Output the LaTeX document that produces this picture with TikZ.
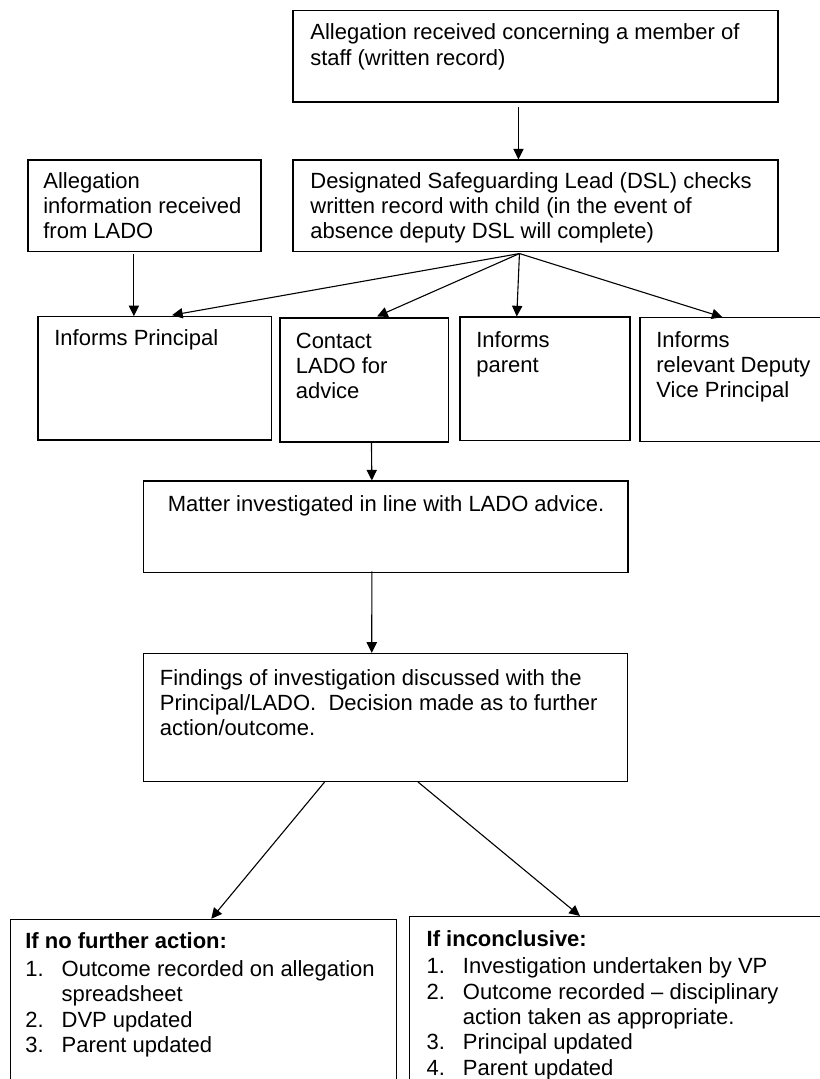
\documentclass[tikz,border=0pt]{standalone}
\usepackage{fontspec}
\setmainfont{Liberation Sans}
\usetikzlibrary{arrows.meta,calc,fit}
\newcommand{\mkbox}[5]{%
  \path (#2,#3) coordinate (#1-a) (#4,#5) coordinate (#1-b);
  \node[boxstyle, fit=(#1-a)(#1-b)] (#1) {};}
\newcommand{\numit}[1]{\makebox[19.8pt][l]{#1}}
\begin{document}
\begin{tikzpicture}[x=0.5455pt,y=-0.5455pt,
  boxstyle/.style={draw=black, line width=0.6pt, inner sep=0pt, rectangle},
  txt/.style={anchor=north west, inner sep=0pt, align=left, font=\fontsize{12}{13.8}\selectfont},
  arr/.style={draw=black, line width=0.6pt, -{Triangle[length=5.8pt,width=5.6pt]}}]
\path[use as bounding box] (0,0) rectangle (820,1079);
\clip (0,0) rectangle (820,1079);
\fill[white] (0,0) rectangle (820,1079);

% boxes
\mkbox{top}{293}{10.7}{778}{102}
\mkbox{lado}{28}{160}{261}{251.7}
\mkbox{dsl}{293}{160}{778}{251.7}
\mkbox{principal}{38}{316.7}{271.4}{440}
\mkbox{contact}{280}{318}{448.7}{442}
\mkbox{parent}{460}{317}{630}{440.7}
\mkbox{deputy}{640}{317.7}{840}{441.7}
\mkbox{matter}{143.8}{481}{628}{572.7}
\mkbox{findings}{143.3}{653.4}{627.6}{781.3}
\mkbox{bl}{10.5}{919.3}{396.4}{1095}
\mkbox{br}{409.5}{916.5}{840}{1095}

% texts
\node[txt] (top-t) at (310,21.8) {\strut Allegation received concerning a member of\\staff (written record)};
\node[txt] (lado-t) at (43,170.3) {\strut Allegation\\information received\\from LADO};
\node[txt] (dsl-t) at (310,170.3) {\strut Designated Safeguarding Lead (DSL) checks\\written record with child (in the event of\\absence deputy DSL will complete)};
\node[txt] (principal-t) at (54,327.3) {\strut Informs Principal};
\node[txt] (contact-t) at (295.5,330.3) {\strut Contact\\LADO for\\advice};
\node[txt] (parent-t) at (476,329.3) {\strut Informs\\parent};
\node[txt] (deputy-t) at (656,329.3) {\strut Informs\\relevant Deputy\\Vice Principal};
\node[txt] (matter-t) at (167.4,493.3) {\strut Matter investigated in line with LADO advice.};
\node[txt] (findings-t) at (159.5,667) {\strut Findings of investigation discussed with the\\Principal/LADO.\ \ Decision made as to further\\action/outcome.};
\node[txt] (bl-t) at (25,930.9) {\strut\textbf{If no further action:}\\[1.2pt]
  \numit{1.}Outcome recorded on allegation\\
  \numit{}spreadsheet\\
  \numit{2.}DVP updated\\
  \numit{3.}Parent updated};
\node[txt] (br-t) at (426.3,928.3) {\strut\textbf{If inconclusive:}\\[1.2pt]
  \numit{1.}Investigation undertaken by VP\\
  \numit{2.}Outcome recorded -- disciplinary\\
  \numit{}action taken as appropriate.\\
  \numit{3.}Principal updated\\
  \numit{4.}Parent updated};

% connectors
\draw[arr] ($(top.south west)+(226,4)$) -- ($(dsl.north west)+(226,0)$);
\draw[arr] ($(lado.south west)+(106.4,1.5)$) -- ($(principal.north west)+(96.4,0)$);
\coordinate (fan) at ($(dsl.south west)+(227,1.3)$);
\draw[arr] (fan) -- ($(principal.north west)+(134.6,-1)$);
\draw[arr] (fan) -- ($(contact.north west)+(97.6,-1)$);
\draw[arr] (fan) -- ($(parent.north west)+(57.3,0)$);
\draw[arr] (fan) -- ($(deputy.north west)+(83,0)$);
\draw[arr] ($(contact.south west)+(92,0)$) -- ($(matter.north west)+(228.6,0)$);
\draw[arr] ($(matter.south west)+(228.6,-2)$) -- ($(findings.north west)+(229,0)$);
\draw[arr] ($(findings.south west)+(182,0)$) -- ($(bl.north west)+(201.3,0)$);
\draw[arr] ($(findings.south west)+(275.1,0)$) -- ($(br.north west)+(171,0)$);
\end{tikzpicture}
\end{document}
